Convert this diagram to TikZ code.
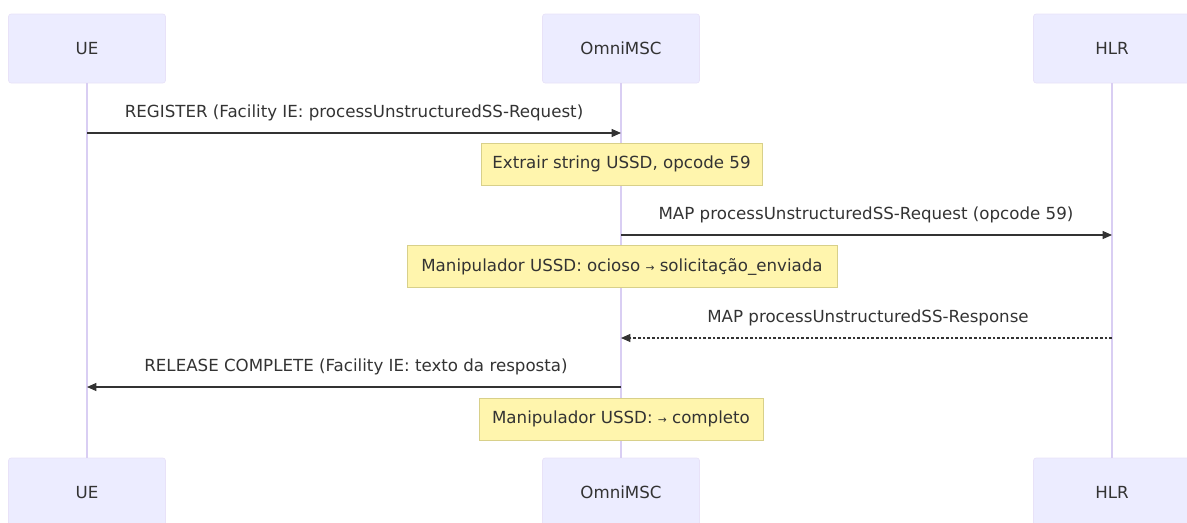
\documentclass[tikz,border=0pt]{standalone}
\usepackage{fontspec}
\setmainfont{DejaVu Sans}
\newfontfamily\symfont{DejaVu Sans}
\usetikzlibrary{arrows.meta}

\definecolor{actorfill}{HTML}{ECECFF}
\definecolor{actorline}{HTML}{D9CEF3}
\definecolor{notefill}{HTML}{FFF5AD}
\definecolor{noteline}{HTML}{D8D08A}
\definecolor{inkgray}{HTML}{333333}

\newcommand{\rarr}{{\symfont\footnotesize →}}

\tikzset{
  actor/.style={fill=actorfill, draw=actorline!60, line width=0.5pt, rounded corners=2pt,
    minimum width=117.75pt, minimum height=51.75pt, text=inkgray, font=\fontsize{12.5}{15}\selectfont},
  life/.style={draw=actorline, line width=0.9pt},
  note/.style={fill=notefill, draw=noteline, line width=0.6pt, minimum height=31.5pt,
    inner xsep=0pt, text=inkgray, font=\fontsize{12.5}{15}\selectfont},
  msg/.style={draw=inkgray, line width=0.8pt, -{Triangle[length=7pt,width=6pt]}},
  reply/.style={msg, dash pattern=on 2pt off 1.5pt},
  lbl/.style={text=inkgray, font=\fontsize{12.5}{15}\selectfont}
}

\begin{document}
\begin{tikzpicture}[x=0.75pt,y=-0.75pt]
\useasboundingbox (0,0) rectangle (1187,522);
\clip (0,0) rectangle (1187,522);

% participants
\node[actor] (ueTop)  at (87,48.5)   {UE};
\node[actor] (mscTop) at (621,48.5)  {OmniMSC};
\node[actor] (hlrTop) at (1112,48.5) {HLR};
\node[actor] (ueBot)  at (87,492.5)   {UE};
\node[actor] (mscBot) at (621,492.5)  {OmniMSC};
\node[actor] (hlrBot) at (1112,492.5) {HLR};

\draw[life] (ueTop) -- (ueBot);
\draw[life] (mscTop) -- (mscBot);
\draw[life] (hlrTop) -- (hlrBot);

% message ends on the lifelines
\coordinate (ue1)  at (87,133);
\coordinate (msc1) at (621,133);
\coordinate (msc2) at (621,235);
\coordinate (hlr2) at (1112,235);
\coordinate (hlr3) at (1112,338);
\coordinate (msc3) at (621,338);
\coordinate (msc4) at (621,387);
\coordinate (ue4)  at (87,387);

\draw[msg] (ue1) -- (msc1);
\node[lbl] (reg) at (354,113) {REGISTER (Facility IE: processUnstructuredSS-Request)};

\node[note, minimum width=210.75pt] (n1) at (621.5,164) {Extrair string USSD, opcode 59};

\draw[msg] (msc2) -- (hlr2);
\node[lbl] (mapreq) at (866,215) {MAP processUnstructuredSS-Request (opcode 59)};

\node[note, minimum width=322.5pt] (n2) at (622,266.5) {Manipulador USSD: ocioso \rarr{} solicitação\_enviada};

\draw[reply] (hlr3) -- (msc3);
\node[lbl] (mapresp) at (868,318) {MAP processUnstructuredSS-Response};

\draw[msg] (msc4) -- (ue4);
\node[lbl] (rel) at (356,367) {RELEASE COMPLETE (Facility IE: texto da resposta)};

\node[note, minimum width=213pt] (n3) at (621,419) {Manipulador USSD: \rarr{} completo};
\end{tikzpicture}
\end{document}
